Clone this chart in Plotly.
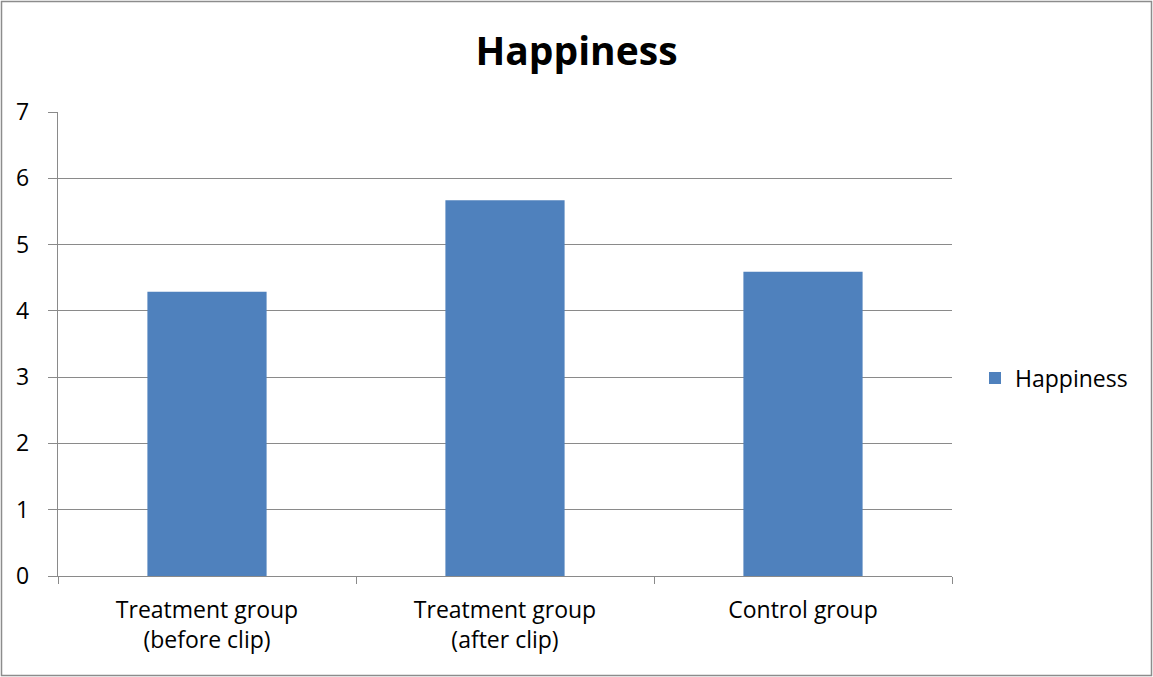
import plotly.graph_objects as go

# Chart data
categories = ["Treatment group<br>(before clip)", "Treatment group<br>(after clip)", "Control group"]
happiness = [4.29, 5.67, 4.59]
series_name = "Happiness"

W, H = 1153, 677
ML, MR, MT, MB = 58, 201, 112, 101
PW, PH = W - ML - MR, H - MT - MB

FONT = "Open Sans"
GRID = "#8a8a8a"
BAR = "#4F81BD"
LABEL_SIZE = 23

fig = go.Figure()
fig.add_trace(go.Bar(
    x=categories,
    y=happiness,
    name=series_name,
    marker=dict(color=BAR, line=dict(width=0)),
    showlegend=True,
))

# Outer chart border, expressed in plot-area paper coordinates
fig.add_shape(
    type="rect", xref="paper", yref="paper",
    x0=(1.5 - ML) / PW, x1=(W - 1.5 - ML) / PW,
    y0=-(MB - 1.5) / PH, y1=1 + (MT - 1.5) / PH,
    line=dict(color="#8c8c8c", width=1.5), fillcolor="rgba(0,0,0,0)",
)

fig.update_layout(
    width=W, height=H,
    margin=dict(l=ML, r=MR, t=MT, b=MB, autoexpand=False),
    paper_bgcolor="white", plot_bgcolor="white",
    font=dict(family=FONT, size=LABEL_SIZE, color="black"),
    title=dict(
        text="<b>Happiness</b>",
        font=dict(family=FONT, size=39, color="black"),
        xref="container", x=0.5, xanchor="center",
        yref="container", y=1 - 51 / H, yanchor="middle",
    ),
    bargap=0.6,
    showlegend=True,
    # Legend sits slightly below the plot-area midline, right of the plot
    legend=dict(
        x=(975 - ML) / PW, xanchor="left",
        y=(MT + PH - 378) / PH, yanchor="middle",
        font=dict(family=FONT, size=LABEL_SIZE, color="black"),
        bgcolor="rgba(0,0,0,0)",
    ),
    xaxis=dict(
        type="category",
        showline=True, linecolor=GRID, linewidth=1.3,
        ticks="outside", ticklen=7, tickcolor=GRID, tickwidth=1.3,
        tickson="boundaries",
        showgrid=False,
        tickfont=dict(family=FONT, size=LABEL_SIZE, color="black"),
        ticklabelstandoff=13,
    ),
    yaxis=dict(
        range=[0, 7], dtick=1, tick0=0,
        showline=True, linecolor=GRID, linewidth=1.3,
        ticks="outside", ticklen=9, tickcolor=GRID, tickwidth=1.3,
        showgrid=True, gridcolor=GRID, gridwidth=1.3,
        zeroline=False,
        tickfont=dict(family=FONT, size=LABEL_SIZE, color="black"),
        ticklabelstandoff=14,
    ),
)

fig.write_html("out.html")
